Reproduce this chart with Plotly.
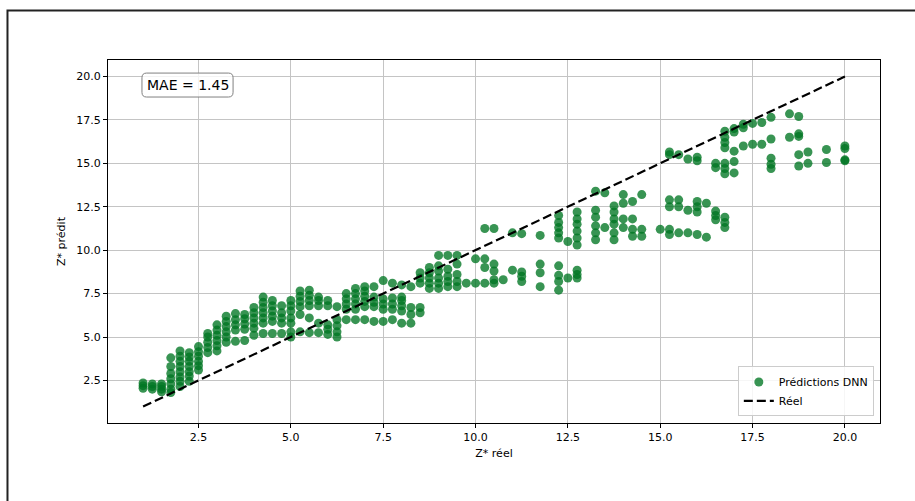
import plotly.graph_objects as go

# Z* réel values (one entry per group of predictions)
z_reel = [
    1.0, 1.25, 1.5, 1.75, 2.0, 2.25, 2.5, 2.75, 3.0, 3.25,
    3.5, 3.75, 4.0, 4.25, 4.5, 4.75, 5.0, 5.25, 5.5, 5.75,
    6.0, 6.25, 6.5, 6.75, 7.0, 7.25, 7.5, 7.75, 8.0, 8.25,
    8.5, 8.75, 9.0, 9.25, 9.5, 9.75, 10.0, 10.25, 10.5, 10.75,
    11.0, 11.25, 11.75, 12.25, 12.5, 12.75, 13.25, 13.5, 13.75, 14.0,
    14.25, 14.5, 15.0, 15.25, 15.5, 15.75, 16.0, 16.25, 16.5, 16.75,
    17.0, 17.25, 17.5, 17.75, 18.0, 18.5, 18.75, 19.0, 19.5, 20.0,
]

# DNN predictions for each Z* réel value
z_pred = [
    [2.05, 2.2, 2.35],
    [2.0, 2.15, 2.3],
    [1.85, 2.0, 2.15, 2.3],
    [1.8, 2.0, 2.3, 2.6, 2.9, 3.3, 3.8],
    [2.15, 2.45, 2.7, 3.0, 3.3, 3.6, 3.9, 4.2],
    [2.45, 2.75, 3.0, 3.3, 3.6, 3.85, 4.1],
    [3.1, 3.35, 3.6, 3.9, 4.15, 4.45],
    [4.1, 4.4, 4.7, 5.0, 5.2],
    [4.2, 4.5, 4.8, 5.1, 5.4, 5.7],
    [4.7, 5.0, 5.3, 5.6, 5.9, 6.2],
    [4.75, 5.4, 5.7, 6.0, 6.35],
    [4.8, 5.45, 5.75, 6.05, 6.3],
    [5.1, 5.5, 5.8, 6.1, 6.4, 6.7],
    [5.2, 5.8, 6.1, 6.4, 6.7, 7.0, 7.3],
    [5.2, 5.9, 6.2, 6.5, 6.8, 7.1],
    [5.2, 5.8, 6.1, 6.4, 6.8],
    [5.0, 5.3, 5.8, 6.1, 6.5, 6.8, 7.1],
    [5.3, 6.3, 6.75, 7.05, 7.35, 7.65],
    [5.25, 6.1, 6.8, 7.1, 7.4, 7.7],
    [5.25, 5.8, 6.8, 7.1, 7.3],
    [5.15, 5.45, 5.7, 6.8, 7.1],
    [5.0, 5.3, 5.65, 6.0, 6.75],
    [6.0, 6.6, 6.9, 7.2, 7.5],
    [6.0, 6.6, 6.9, 7.2, 7.5, 7.8],
    [6.0, 6.75, 7.05, 7.35, 7.65, 7.9],
    [5.9, 6.75, 7.0, 7.3, 7.9],
    [5.9, 6.6, 6.9, 7.2, 8.25],
    [6.0, 6.6, 6.9, 7.25, 8.1],
    [5.8, 6.5, 6.8, 7.1, 7.3, 8.0],
    [5.8, 6.3, 6.7, 7.9],
    [6.4, 6.7, 8.1, 8.4, 8.7],
    [7.8, 8.1, 8.4, 8.7, 9.0],
    [7.8, 8.1, 8.4, 8.8, 9.1, 9.7],
    [7.9, 8.2, 8.5, 8.9, 9.7],
    [7.9, 8.2, 8.6, 9.2, 9.7],
    [8.1],
    [8.1, 9.5],
    [8.1, 9.0, 9.5, 11.25],
    [8.1, 8.3, 8.8, 9.2, 11.25],
    [8.3],
    [8.85, 11.0],
    [8.2, 8.5, 8.75, 10.95],
    [7.9, 8.7, 9.2, 10.85],
    [7.7, 8.2, 8.55, 9.1, 10.7, 11.0, 11.3, 11.6, 12.0],
    [8.4, 10.5],
    [8.4, 8.6, 8.85, 10.3, 10.7, 11.1, 11.5, 11.8, 12.2],
    [10.6, 11.0, 11.4, 11.9, 12.3, 13.4],
    [11.3, 13.3],
    [10.6, 11.0, 11.5, 11.8, 12.2, 12.55],
    [11.3, 11.8, 12.7, 13.2],
    [10.8, 11.2, 11.8, 12.8],
    [10.8, 11.2, 13.2],
    [11.2],
    [10.9, 11.2, 12.5, 12.9, 15.5, 15.65],
    [11.0, 12.5, 12.9, 15.5],
    [11.0, 12.3, 15.25],
    [10.9, 12.2, 12.5, 12.8, 15.15, 15.35],
    [10.75, 12.7],
    [11.75, 12.0, 12.25, 14.75, 15.0],
    [11.3, 11.6, 11.9, 14.4, 14.7, 15.0, 15.9, 16.2, 16.5, 16.85],
    [14.45, 15.1, 15.7, 16.8, 17.0],
    [16.0, 17.05, 17.25],
    [16.1, 17.3],
    [16.1, 17.35],
    [14.7, 14.95, 15.3, 16.4, 17.65],
    [16.5, 17.85],
    [14.85, 15.5, 16.55, 16.7, 17.7],
    [15.0, 15.65],
    [15.05, 15.8],
    [15.15, 15.2, 15.85, 16.0],
]

ideal_line = [1.0, 20.0]
mae_value = 1.45
axis_range = [0.05, 20.95]
tick_vals = [2.5, 5.0, 7.5, 10.0, 12.5, 15.0, 17.5, 20.0]

xs = [x for x, ys in zip(z_reel, z_pred) for _ in ys]
ys = [y for ys_ in z_pred for y in ys_]

FONT = "DejaVu Sans"

fig = go.Figure()
fig.add_trace(go.Scatter(
    x=xs, y=ys, mode="markers", name="Prédictions DNN",
    marker=dict(size=9, color="rgb(0,118,35)", opacity=0.78, line=dict(width=0)),
))
fig.add_trace(go.Scatter(
    x=ideal_line, y=ideal_line, mode="lines", name="Réel",
    line=dict(color="black", width=2.2, dash="9px,4px"),
))

axis_common = dict(
    range=axis_range, tickvals=tick_vals, ticktext=[f"{v:.1f}" for v in tick_vals],
    showgrid=True, gridcolor="#c4c4c4", gridwidth=1,
    showline=True, linecolor="black", linewidth=1, mirror=True,
    ticks="outside", ticklen=4, tickwidth=1, tickcolor="black",
    tickfont=dict(family=FONT, size=11, color="black"),
    zeroline=False,
)

fig.update_layout(
    width=915, height=501,
    margin=dict(l=108, r=35, t=60, b=78),
    paper_bgcolor="white", plot_bgcolor="white",
    font=dict(family=FONT, size=11, color="black"),
    showlegend=True,
    legend=dict(
        x=0.992, y=0.018, xanchor="right", yanchor="bottom",
        bgcolor="rgba(255,255,255,0.85)", bordercolor="#cccccc", borderwidth=1,
        font=dict(family=FONT, size=11, color="black"),
        itemwidth=30, tracegroupgap=0,
    ),
    xaxis=dict(axis_common, title=dict(text="Z* réel", font=dict(family=FONT, size=11), standoff=6)),
    yaxis=dict(axis_common, title=dict(text="Z* prédit", font=dict(family=FONT, size=11), standoff=8)),
)

# rounded box behind the MAE text (paper coordinates)
bx0, bx1, by0, by1 = 0.044, 0.162, 0.898, 0.964
rx, ry = 0.006, 0.013
path = (
    f"M {bx0+rx},{by0} L {bx1-rx},{by0} Q {bx1},{by0} {bx1},{by0+ry} "
    f"L {bx1},{by1-ry} Q {bx1},{by1} {bx1-rx},{by1} "
    f"L {bx0+rx},{by1} Q {bx0},{by1} {bx0},{by1-ry} "
    f"L {bx0},{by0+ry} Q {bx0},{by0} {bx0+rx},{by0} Z"
)
fig.add_shape(type="path", path=path, xref="paper", yref="paper",
              fillcolor="rgba(255,255,255,0.8)", line=dict(color="#808080", width=1))
fig.add_annotation(
    x=(bx0 + bx1) / 2, y=(by0 + by1) / 2, xref="paper", yref="paper",
    text=f"MAE = {mae_value:.2f}", showarrow=False,
    font=dict(family=FONT, size=14, color="black"),
    xanchor="center", yanchor="middle",
)

# outer figure frame
fig.add_shape(type="rect", xref="paper", yref="paper",
              x0=-0.1302, x1=1.2, y0=-0.4, y1=1.1364,
              line=dict(color="#222222", width=2), fillcolor="rgba(0,0,0,0)", layer="below")

fig.write_html("out.html")
